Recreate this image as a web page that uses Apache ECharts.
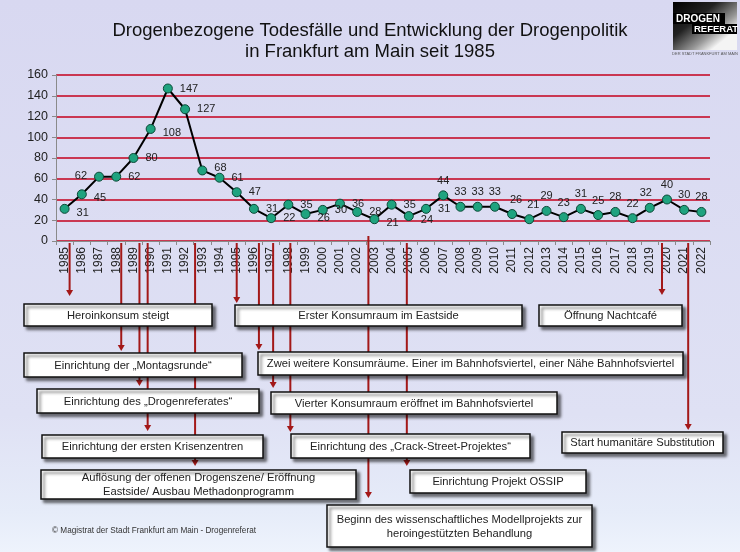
<!DOCTYPE html>
<html>
<head>
<meta charset="utf-8">
<script src="https://cdn.jsdelivr.net/npm/echarts@6/dist/echarts.min.js"></script>
<style>
html,body{margin:0;padding:0;background:#dcdcf2;}
#c{width:740px;height:552px;}
</style>
</head>
<body>
<div id="c"></div>
<script>
// ---- data ----
const years = ['1985','1986','1987','1988','1989','1990','1991','1992','1993','1994','1995','1996','1997','1998','1999','2000','2001','2002','2003','2004','2005','2006','2007','2008','2009','2010','2011','2012','2013','2014','2015','2016','2017','2018','2019','2020','2021','2022'];
const deaths = [31,45,62,62,80,108,147,127,68,61,47,31,22,35,26,30,36,28,21,35,24,31,44,33,33,33,26,21,29,23,31,25,28,22,32,40,30,28];
const yTicks = [0,20,40,60,80,100,120,140,160];
const eventYears = ['1985','1988','1989','1990','1992','1995','1996','1997','1998','2003','2005','2020','2021'];
const eventTexts = [
  'Heroinkonsum steigt',
  'Einrichtung der \u201EMontagsrunde\u201C',
  'Einrichtung des \u201EDrogenreferates\u201C',
  'Einrichtung der ersten Krisenzentren',
  'Auflösung der offenen Drogenszene/ Eröffnung\nEastside/ Ausbau Methadonprogramm',
  'Erster Konsumraum im Eastside',
  'Zwei weitere Konsumräume. Einer im Bahnhofsviertel, einer Nähe Bahnhofsviertel',
  'Vierter Konsumraum eröffnet im Bahnhofsviertel',
  'Einrichtung des \u201ECrack-Street-Projektes\u201C',
  'Beginn des wissenschaftliches Modellprojekts zur\nheroingestützten Behandlung',
  'Einrichtung Projekt OSSIP',
  'Öffnung Nachtcafé',
  'Start humanitäre Substitution'
];
const titleText = 'Drogenbezogene Todesfälle und Entwicklung der Drogenpolitik\nin Frankfurt am Main seit 1985';
const copyrightText = '\u00A9 Magistrat der Stadt Frankfurt am Main - Drogenreferat';

// ---- layout (positions / sizes) ----
const boxLayout = [
  [24,304,188,22],[24,353,218,24],[37,389,222,24],[42,435,221,23],[41,470,315,29],
  [235,305,287,21],[258,352,425,23],[271,392,286,22],[291,434,239,24],
  [327,505,265,42],[410,470,176,23],[539,305,143,21],[562,432,161,21]
];
const arrowTip = [296,351,386,431,466,303,350,388,432,498,466,295,430];
const arrowDx  = [5,5,6,-3,10,0,5,2,2,-6,-2,-5,4];
const arrowStart = [2,2,2,2,2,2,2,2,2,-5,2,2,2];

const FONT = '"Liberation Sans", Arial, sans-serif';
const chart = echarts.init(document.getElementById('c'), null, {renderer:'canvas'});

function labelFor(i){
  const lab = {show:true, distance:7, color:'#222', fontSize:11, fontFamily:FONT};
  if (i >= 22) { lab.position = 'top'; lab.distance = 4; }
  else if (i === 2) { lab.position = 'left'; lab.offset = [0,-1]; }
  else { lab.position = 'right'; }
  if ([0,1,5,14,18,20].indexOf(i) >= 0) lab.offset = [0,4];
  if (i === 8) lab.offset = [0,-2];
  if (i === 34) lab.offset = [-4,0];
  if (i === 26 || i === 27) lab.offset = [4,0];
  return lab;
}
const seriesData = deaths.map((v,i)=>({value:v, label:labelFor(i)}));

const option = {
  animation:false,
  backgroundColor:{type:'linear',x:0,y:0,x2:0,y2:1,colorStops:[
    {offset:0,color:'#d8d8f1'},{offset:0.75,color:'#dfe1f4'},{offset:0.93,color:'#e6ecf9'},{offset:1,color:'#eef3fc'}]},
  title:{
    text:titleText, left:'center', top:15,
    textStyle:{fontFamily:FONT, fontSize:18.5, fontWeight:'normal', color:'#111', lineHeight:21}
  },
  grid:{left:56, top:75, width:654, height:166, containLabel:false},
  xAxis:{
    type:'category', data:years, boundaryGap:true,
    axisLine:{lineStyle:{color:'#8a8a8a', width:1}},
    axisTick:{show:true, length:4, lineStyle:{color:'#8a8a8a'}},
    axisLabel:{rotate:90, fontSize:12, fontFamily:FONT, color:'#222', margin:6, interval:0},
    splitLine:{show:false}
  },
  yAxis:{
    type:'value', min:0, max:160, interval:20,
    axisLine:{show:true, lineStyle:{color:'#8a8a8a'}},
    axisTick:{show:true, length:4, lineStyle:{color:'#8a8a8a'}},
    axisLabel:{fontSize:12.5, fontFamily:FONT, color:'#222', margin:8,
      formatter:(v)=> yTicks.indexOf(v)>=0 ? String(v) : ''},
    splitLine:{show:true, lineStyle:{color:['#c4001c'], width:1.5}}
  },
  series:[{
    type:'line', data:seriesData,
    symbol:'circle', symbolSize:9,
    lineStyle:{color:'#000', width:2},
    itemStyle:{color:'#1fa37f', borderColor:'#0b4a37', borderWidth:1},
    z:5
  }]
};
chart.setOption(option);

function buildGraphics(){
  const axisY = chart.convertToPixel({yAxisIndex:0}, 0);
  const els = [];
  // logo
  els.push({type:'rect', shape:{x:673,y:2,width:64,height:48},
    style:{fill:{type:'linear',x:0,y:0,x2:0.6,y2:1,colorStops:[
      {offset:0,color:'#000'},{offset:0.45,color:'#222'},{offset:0.8,color:'#9a9a9a'},{offset:1,color:'#f4f4f4'}]}}, z:40});
  els.push({type:'rect', shape:{x:673,y:13,width:52,height:11}, style:{fill:'#000'}, z:41});
  els.push({type:'text', style:{x:676,y:19,text:'DROGEN',font:'bold 10px '+FONT,fill:'#fff',verticalAlign:'middle'}, z:42});
  els.push({type:'rect', shape:{x:692,y:24,width:45,height:10}, style:{fill:'#000'}, z:41});
  els.push({type:'text', style:{x:694,y:29.5,text:'REFERAT',font:'bold 9.5px '+FONT,fill:'#fff',verticalAlign:'middle'}, z:42});
  els.push({type:'text', style:{x:705,y:54,text:'DER STADT FRANKFURT AM MAIN',font:'4px '+FONT,fill:'#555',align:'center',verticalAlign:'middle'}, z:42});
  // copyright
  els.push({type:'text', style:{x:52,y:531,text:copyrightText,font:'8.2px '+FONT,fill:'#333',verticalAlign:'middle'}, z:40});
  // events
  eventYears.forEach((yr,i)=>{
    const cx = chart.convertToPixel({xAxisIndex:0}, yr) + arrowDx[i];
    const b = boxLayout[i];
    const tip = arrowTip[i];
    const y0 = axisY + arrowStart[i];
    els.push({type:'line', shape:{x1:cx,y1:y0,x2:cx,y2:tip-5}, style:{stroke:'#a31818', lineWidth:2}, z:50});
    els.push({type:'polygon', shape:{points:[[cx-3.5,tip-6],[cx+3.5,tip-6],[cx,tip]]}, style:{fill:'#a31818'}, z:50});
    els.push({type:'rect', shape:{x:b[0],y:b[1],width:b[2],height:b[3]},
      style:{fill:'#fff', stroke:'#111', lineWidth:1.5, shadowBlur:3, shadowOffsetX:3, shadowOffsetY:3, shadowColor:'rgba(0,0,0,0.55)'}, z:60});
    els.push({type:'text', style:{x:b[0]+b[2]/2, y:b[1]+b[3]/2+0.5, text:eventTexts[i], align:'center', verticalAlign:'middle',
      font:'11.2px '+FONT, fill:'#222', lineHeight:14}, z:61});
  });
  chart.setOption({graphic:{elements:els}});
}
buildGraphics();
</script>
</body>
</html>
